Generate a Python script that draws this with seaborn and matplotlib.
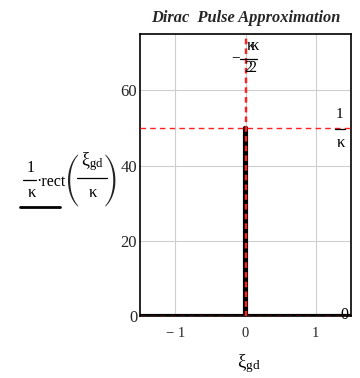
import os
import matplotlib
matplotlib.use("Agg")
import matplotlib.pyplot as plt
import seaborn as sns
import pandas as pd
from matplotlib.lines import Line2D
from matplotlib.font_manager import FontProperties

sns.set_theme(style="white")
plt.rcParams["font.family"] = ["Liberation Serif", "DejaVu Serif"]
plt.rcParams["mathtext.fontset"] = "custom"
plt.rcParams["mathtext.rm"] = "Liberation Serif"
plt.rcParams["mathtext.it"] = "Liberation Serif:italic"
plt.rcParams["mathtext.bf"] = "Liberation Serif:bold"

# pulse width and the sampled rect trace
kappa = 0.02
xi_gd = [-1.5, -0.01, -0.01, 0.01, 0.01, 1.5]
pulse = [0.0, 0.0, 50.0, 50.0, 0.0, 0.0]
x_ticks = [-1, 0, 1]
x_tick_labels = ["\u2212 1", "0", "1"]
y_ticks = [0, 20, 40, 60]
x_limits = (-1.5, 1.5)
y_limits = (0, 75)

df = pd.DataFrame({"xi": xi_gd, "f": pulse})

W, H = 360, 378
fig = plt.figure(figsize=(W / 100, H / 100), dpi=100)
ax = fig.add_axes([140 / W, 1 - 316 / H, 211 / W, 282 / H])


def px(x, y):
    """pixel position (from the top-left corner) -> figure fraction"""
    return x / W, 1 - y / H


def ftext(x, y, s, size=11.5, **kw):
    fx, fy = px(x, y)
    kw.setdefault("ha", "center")
    kw.setdefault("va", "center")
    return fig.text(fx, fy, s, fontsize=size, color="black", **kw)


def fline(x0, x1, y, lw=0.9):
    (a, b), (c, d) = px(x0, y), px(x1, y)
    fig.add_artist(Line2D([a, c], [b, d], color="black", linewidth=lw))


ax.grid(True, color="#cfcfcf", linewidth=0.8)
ax.set_axisbelow(True)

sns.lineplot(data=df, x="xi", y="f", ax=ax, sort=False, estimator=None,
             color="black", linewidth=3.0, zorder=3)

# markers: vertical at ±kappa/2, horizontal at 1/kappa and 0
for xm in (-kappa / 2, kappa / 2):
    ax.axvline(xm, color="#ff2020", linestyle=(0, (4, 3)), linewidth=1.0, zorder=4)
for ym in (1 / kappa, 0):
    ax.axhline(ym, color="#ff2020", linestyle=(0, (4, 3)), linewidth=1.0, zorder=4)

ax.set_xlim(*x_limits)
ax.set_ylim(*y_limits)
ax.set_xticks(x_ticks)
ax.set_xticklabels(x_tick_labels)
ax.set_yticks(y_ticks)
ax.set_xlabel("")
ax.set_ylabel("")
ax.tick_params(axis="x", labelsize=10.5, length=0, pad=8)
ax.tick_params(axis="y", labelsize=12, length=0, pad=2)

for s in ax.spines.values():
    s.set_visible(True)
    s.set_color("black")
    s.set_linewidth(1.2)

ax.set_title("Dirac  Pulse Approximation", fontsize=11.8, fontweight="bold",
             fontstyle="italic", pad=9)

# vertical marker labels: -kappa/2 and kappa/2 drawn nearly on top of each other
ftext(236, 58, "\u2212", size=11)
fline(240, 257, 59)
ftext(253, 46, r"$\mathrm{κ\!\!κ}$", size=12)
ftext(251, 68, r"$\mathrm{2\!\!2}$", size=11.5)

# horizontal marker labels
ftext(339, 114, "1", size=11)
fline(335, 345, 129)
ftext(341, 143, "κ", size=12)
ftext(344, 315, "0", size=11.5)

# x axis label
ftext(249, 364, r"$\mathrm{ξ_{gd}}$", size=13.5)

# y axis label: 1/κ · rect(ξgd / κ)
ftext(30.5, 168, "1", size=11.5)
fline(23, 36, 180)
ftext(32, 193, "κ", size=12)
ftext(36, 182, "\u00b7rect", size=11.5, ha="left")
ftext(92, 162, r"$\mathrm{ξ_{gd}}$", size=13)
fline(77, 107, 178)
ftext(93, 193, "κ", size=12)

paren_file = os.path.join(matplotlib.get_data_path(), "fonts", "ttf", "STIXSizFourSymReg.ttf")
if os.path.exists(paren_file):
    pfont = FontProperties(fname=paren_file, size=12)
else:
    pfont = FontProperties(family="Liberation Serif", size=30)
for xx, ch in ((73, "("), (110, ")")):
    fx, fy = px(xx, 181)
    fig.text(fx, fy, ch, fontproperties=pfont, ha="center", va="center", color="#222222")

fline(20, 60, 207, lw=2.0)

fig.savefig("out.png", dpi=100)
